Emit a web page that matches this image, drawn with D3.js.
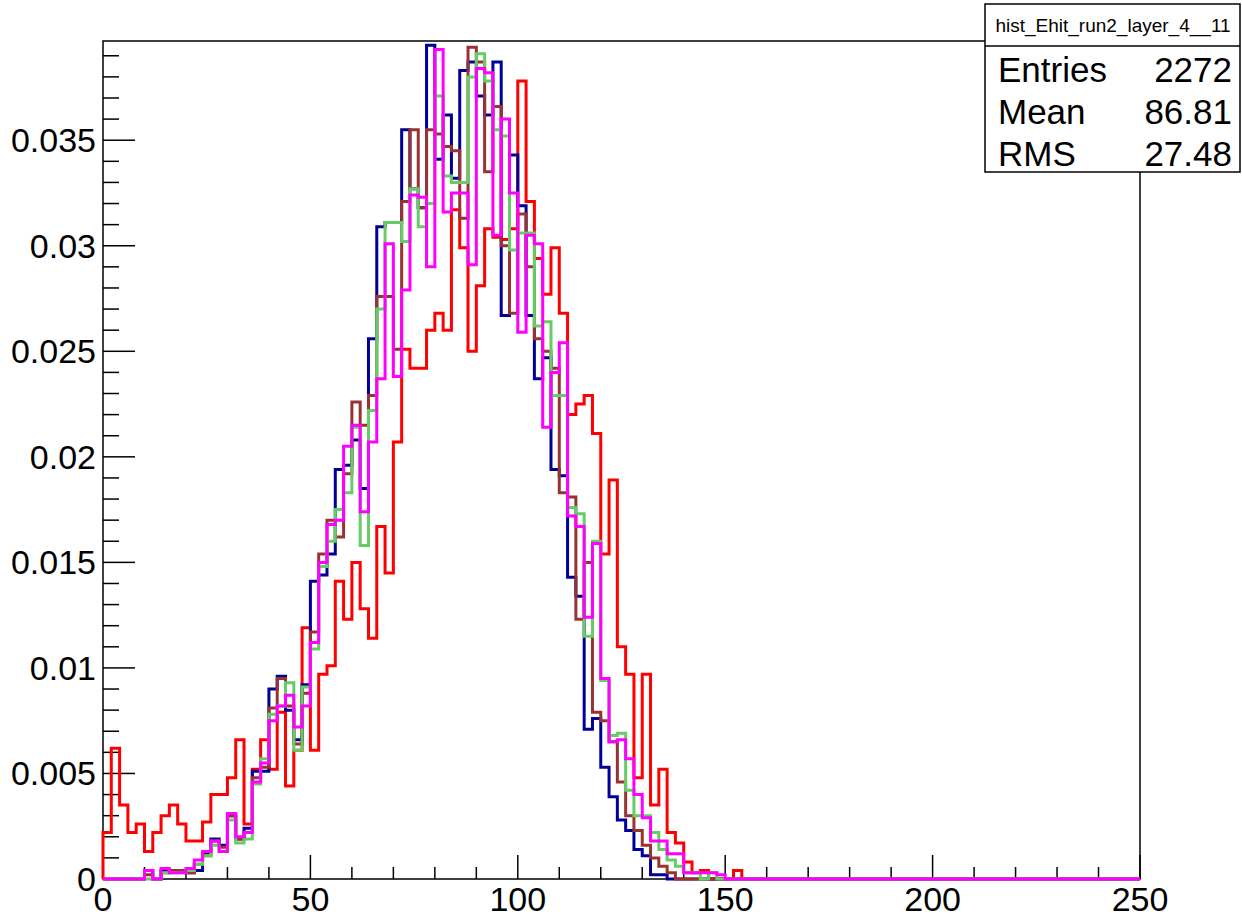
<!DOCTYPE html>
<html>
<head>
<meta charset="utf-8">
<script src="https://cdn.jsdelivr.net/npm/d3@7"></script>
<style>
  body { margin: 0; background: #fff; }
  svg { display: block; font-family: "Liberation Sans", Arial, sans-serif; }
</style>
</head>
<body>
<div id="chart"></div>
<script>
// Histogram bin setup: 125 bins of width 2 from 0 to 250
const binWidth = 2;
const nBins = 125;

// Bin contents (bins past the end of a list are empty)
const redValues = [
  0.0022, 0.0062, 0.0035, 0.0022, 0.0026, 0.0013, 0.0022, 0.0030, 0.0035, 0.0026,
  0.0018, 0.0018, 0.0027, 0.0040, 0.0040, 0.0048, 0.0066, 0.0026, 0.0052, 0.0066,
  0.0052, 0.0079, 0.0044, 0.0061, 0.0119, 0.0061, 0.0097, 0.0101, 0.0141, 0.0123,
  0.0150, 0.0128, 0.0114, 0.0167, 0.0145, 0.0207, 0.0251, 0.0242, 0.0242, 0.0260,
  0.0268, 0.0260, 0.0317, 0.0299, 0.0250, 0.0281, 0.0308, 0.0304, 0.0303, 0.0308,
  0.0378, 0.0321, 0.0294, 0.0277, 0.0299, 0.0268, 0.0220, 0.0225, 0.0229, 0.0211,
  0.0154, 0.0189, 0.0110, 0.0097, 0.0048, 0.0097, 0.0035, 0.0052, 0.0022, 0.0017,
  0.0008, 0.0003, 0.0004, 0, 0, 0, 0.0004, 0
];
const blueValues = [
  0, 0, 0, 0, 0, 0.0004, 0, 0.0004, 0.0004, 0.0004,
  0.0003, 0.0004, 0.0012, 0.0019, 0.0016, 0.0030, 0.0019, 0.0024, 0.0051, 0.0051,
  0.0090, 0.0096, 0.0080, 0.0066, 0.0092, 0.0141, 0.0144, 0.0154, 0.0194, 0.0196,
  0.0208, 0.0185, 0.0256, 0.0309, 0.0311, 0.0311, 0.0355, 0.0327, 0.0318, 0.0395,
  0.0341, 0.0362, 0.0332, 0.0383, 0.0387, 0.0371, 0.0362, 0.0387, 0.0267, 0.0343,
  0.0319, 0.0267, 0.0237, 0.0247, 0.0194, 0.0191, 0.0143, 0.0134, 0.0071, 0.0076,
  0.0053, 0.0039, 0.0028, 0.0023, 0.0014, 0.0011, 0.0002, 0.0002, 0
];
const brownValues = [
  0, 0, 0, 0, 0, 0.0002, 0, 0.0003, 0.0004, 0.0004,
  0.0003, 0.0007, 0.0011, 0.0018, 0.0015, 0.0030, 0.0019, 0.0022, 0.0048, 0.0053,
  0.0081, 0.0095, 0.0082, 0.0064, 0.0088, 0.0117, 0.0154, 0.0170, 0.0162, 0.0192,
  0.0226, 0.0215, 0.0229, 0.0276, 0.0276, 0.0251, 0.0321, 0.0355, 0.0318, 0.0355,
  0.0353, 0.0347, 0.0345, 0.0313, 0.0394, 0.0387, 0.0335, 0.0366, 0.0300, 0.0268,
  0.0315, 0.0290, 0.0256, 0.0250, 0.0242, 0.0183, 0.0181, 0.0123, 0.0150, 0.0079,
  0.0075, 0.0065, 0.0046, 0.0030, 0.0023, 0.0016, 0.0010, 0.0006, 0.0003, 0
];
const greenValues = [
  0, 0, 0, 0, 0, 0, 0, 0.0003, 0.0003, 0.0003,
  0.0004, 0.0007, 0.0011, 0.0016, 0.0013, 0.0028, 0.0017, 0.0019, 0.0045, 0.0057,
  0.0078, 0.0082, 0.0093, 0.0061, 0.0091, 0.0109, 0.0148, 0.0160, 0.0175, 0.0183,
  0.0214, 0.0158, 0.0222, 0.0270, 0.0311, 0.0311, 0.0302, 0.0327, 0.0309, 0.0320,
  0.0371, 0.0333, 0.0330, 0.0330, 0.0380, 0.0391, 0.0378, 0.0355, 0.0352, 0.0298,
  0.0306, 0.0306, 0.0262, 0.0264, 0.0229, 0.0229, 0.0176, 0.0173, 0.0115, 0.0160,
  0.0094, 0.0068, 0.0069, 0.0042, 0.0030, 0.0030, 0.0022, 0.0014, 0.0009, 0.0006,
  0.0003, 0.0003, 0, 0.0003, 0
];
const magentaValues = [
  0, 0, 0, 0, 0, 0.0004, 0, 0.0005, 0.0003, 0.0003,
  0.0005, 0.0009, 0.0013, 0.0018, 0.0013, 0.0031, 0.0020, 0.0022, 0.0046, 0.0055,
  0.0075, 0.0082, 0.0087, 0.0072, 0.0082, 0.0112, 0.0150, 0.0168, 0.0170, 0.0205,
  0.0215, 0.0174, 0.0207, 0.0237, 0.0301, 0.0238, 0.0279, 0.0324, 0.0323, 0.0290,
  0.0393, 0.0316, 0.0325, 0.0325, 0.0291, 0.0384, 0.0382, 0.0305, 0.0360, 0.0325,
  0.0259, 0.0305, 0.0301, 0.0214, 0.0240, 0.0254, 0.0172, 0.0167, 0.0124, 0.0159,
  0.0095, 0.0065, 0.0066, 0.0057, 0.0040, 0.0029, 0.0018, 0.0018, 0.0012, 0.0012,
  0.0003, 0.0003, 0.0003, 0.0003, 0.0002, 0
];

// Draw order: first histogram owns the stats box, the rest are drawn "same"
const seriesValues = [redValues, blueValues, brownValues, greenValues, magentaValues];
const seriesColors = ["#ff0000", "#000099", "#993333", "#66cc66", "#ff00ff"];

const statsName = "hist_Ehit_run2_layer_4__11";
const statsRows = [["Entries", "2272"], ["Mean", "86.81"], ["RMS", "27.48"]];

const xTickValues = [0, 50, 100, 150, 200, 250];
const yTickValues = [0, 0.005, 0.01, 0.015, 0.02, 0.025, 0.03, 0.035];

// Layout
const width = 1242, height = 919;
const frame = { left: 103, right: 1140, top: 41, bottom: 879 };

const x = d3.scaleLinear().domain([0, 250]).range([frame.left, frame.right]);
const y = d3.scaleLinear().domain([0, 0.0397]).range([frame.bottom, frame.top]);

const svg = d3.select("#chart").append("svg")
  .attr("width", width)
  .attr("height", height);

svg.append("rect")
  .attr("width", width)
  .attr("height", height)
  .attr("fill", "#fff");

// Frame first, histograms are painted over it
svg.append("rect")
  .attr("x", frame.left)
  .attr("y", frame.top)
  .attr("width", frame.right - frame.left)
  .attr("height", frame.bottom - frame.top)
  .attr("fill", "none")
  .attr("stroke", "#000")
  .attr("stroke-width", 1.5);

// X axis ticks (major every 50, minor every 10)
const xMinor = d3.range(0, 251, 10).filter((v) => v % 50 !== 0);
svg.append("g")
  .attr("stroke", "#000")
  .attr("stroke-width", 1.5)
  .selectAll("line")
  .data(xTickValues.map((v) => [v, 24]).concat(xMinor.map((v) => [v, 12])))
  .join("line")
  .attr("x1", (d) => x(d[0]))
  .attr("x2", (d) => x(d[0]))
  .attr("y1", frame.bottom)
  .attr("y2", (d) => frame.bottom - d[1]);

svg.append("g")
  .selectAll("text")
  .data(xTickValues)
  .join("text")
  .attr("x", (d) => x(d))
  .attr("y", 911)
  .attr("text-anchor", "middle")
  .attr("font-size", 34)
  .attr("fill", "#000")
  .text((d) => d);

// Y axis ticks (major every 0.005, minor every 0.001)
const yMinor = d3.range(1, 40).map((k) => k / 1000).filter((v, k) => (k + 1) % 5 !== 0);
svg.append("g")
  .attr("stroke", "#000")
  .attr("stroke-width", 1.5)
  .selectAll("line")
  .data(yTickValues.map((v) => [v, 32]).concat(yMinor.map((v) => [v, 16])))
  .join("line")
  .attr("x1", frame.left)
  .attr("x2", (d) => frame.left + d[1])
  .attr("y1", (d) => y(d[0]))
  .attr("y2", (d) => y(d[0]));

svg.append("g")
  .selectAll("text")
  .data(yTickValues)
  .join("text")
  .attr("x", 96)
  .attr("y", (d) => y(d) + 12)
  .attr("text-anchor", "end")
  .attr("font-size", 34)
  .attr("fill", "#000")
  .text((d) => d3.format("~g")(d));

// Step outline the way ROOT draws a histogram
function histPoints(values) {
  const pts = [[0, 0]];
  for (let i = 0; i < nBins; i++) {
    const v = values[i] || 0;
    pts.push([i * binWidth, v]);
    pts.push([(i + 1) * binWidth, v]);
  }
  pts.push([nBins * binWidth, 0]);
  return pts;
}

const line = d3.line()
  .x((d) => x(d[0]))
  .y((d) => y(d[1]));

const histGroup = svg.append("g")
  .attr("fill", "none")
  .attr("stroke-width", 3)
  .attr("stroke-linejoin", "miter");

seriesValues.forEach((vals, i) => {
  histGroup.append("path")
    .attr("d", line(histPoints(vals)))
    .attr("stroke", seriesColors[i]);
});

// Stats box
const stats = svg.append("g");
stats.append("rect")
  .attr("x", 985).attr("y", 4)
  .attr("width", 255).attr("height", 168)
  .attr("fill", "#fff")
  .attr("stroke", "#000")
  .attr("stroke-width", 1.5);
stats.append("line")
  .attr("x1", 985).attr("x2", 1240)
  .attr("y1", 46).attr("y2", 46)
  .attr("stroke", "#000")
  .attr("stroke-width", 1.5);
stats.append("text")
  .attr("x", 1113).attr("y", 32)
  .attr("text-anchor", "middle")
  .attr("font-size", 19)
  .text(statsName);
statsRows.forEach((row, i) => {
  const ty = 82 + i * 42;
  stats.append("text")
    .attr("x", 998).attr("y", ty)
    .attr("font-size", 35)
    .text(row[0]);
  stats.append("text")
    .attr("x", 1232).attr("y", ty)
    .attr("text-anchor", "end")
    .attr("font-size", 35)
    .text(row[1]);
});
</script>
</body>
</html>
